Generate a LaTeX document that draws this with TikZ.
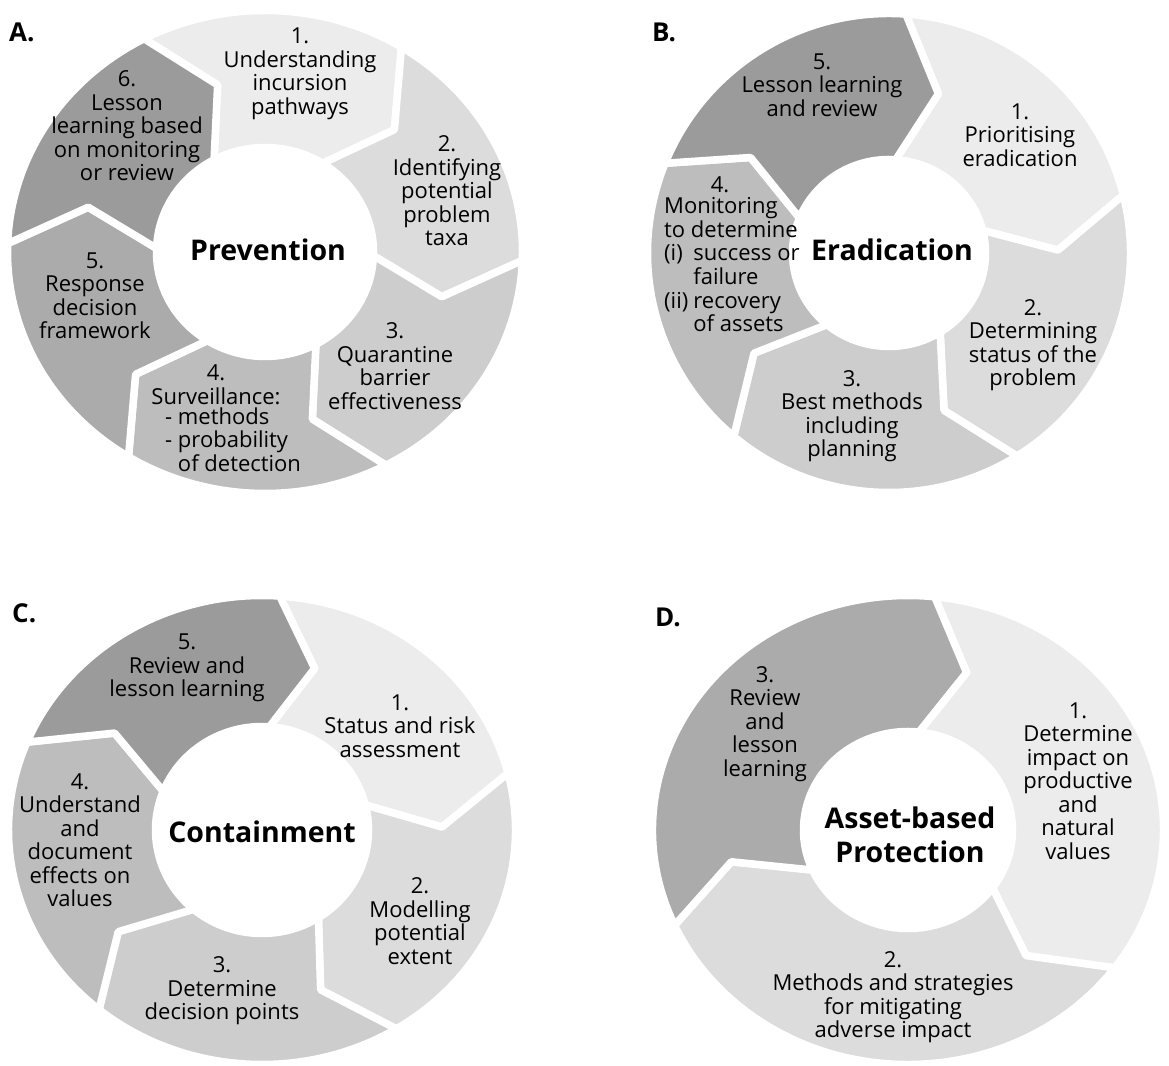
\documentclass[tikz,border=0pt]{standalone}
\usepackage{fontspec}
\setmainfont{Open Sans}
\definecolor{gris1}{HTML}{ECECEC}
\definecolor{gris2}{HTML}{DCDCDC}
\definecolor{gris3}{HTML}{CDCDCD}
\definecolor{gris4}{HTML}{BDBDBD}
\definecolor{gris5}{HTML}{ABABAB}
\definecolor{gris6}{HTML}{9B9B9B}
\newcommand{\fleche}[3]{%
  \filldraw[segment, fill=#3]
    (#1:{\rxo} and {\ryo}) arc[start angle=#1, end angle=#2, x radius=\rxo, y radius=\ryo]
    -- ({#2-13}:{\rxm} and {\rym}) -- (#2:{\rxi} and {\ryi})
    arc[start angle=#2, end angle=#1, x radius=\rxi, y radius=\ryi]
    -- ({#1-13}:{\rxm} and {\rym}) -- cycle;}

\begin{document}
\begin{tikzpicture}[x=1pt,y=1pt]
\tikzset{segment/.style={draw=white, line width=7.5pt, line join=round},
  etiq/.style={align=center, inner sep=0pt, font=\fontsize{22}{23.5}\selectfont},
  liste/.style={anchor=west, inner sep=0pt, font=\fontsize{22}{23.5}\selectfont},
  titre/.style={align=center, inner sep=0pt, font=\fontsize{28.5}{34}\selectfont\bfseries},
  lettre/.style={anchor=west, inner sep=0pt, font=\fontsize{26}{30}\selectfont\bfseries}}
\useasboundingbox (0,0) rectangle (1169,1065);

\begin{scope}[shift={(265,813)}]
\def\rxo{257.5pt}\def\ryo{241.5pt}\def\rxm{183pt}\def\rym{173pt}\def\rxi{108.5pt}\def\ryi{104.5pt}
\fleche{118}{58}{gris1}
\fleche{58}{-2}{gris2}
\fleche{-2}{-62}{gris3}
\fleche{-62}{-122}{gris4}
\fleche{-122}{-182}{gris5}
\fleche{-182}{-242}{gris6}
\end{scope}

\begin{scope}[shift={(889,812)}]
\def\rxo{241.5pt}\def\ryo{239.5pt}\def\rxm{169pt}\def\rym{166.5pt}\def\rxi{96.5pt}\def\ryi{93.5pt}
\fleche{86}{14}{gris1}
\fleche{14}{-58}{gris2}
\fleche{-58}{-130}{gris3}
\fleche{-130}{-202}{gris4}
\fleche{-202}{-274}{gris6}
\end{scope}

\begin{scope}[shift={(262,235)}]
\def\rxo{253.5pt}\def\ryo{234.5pt}\def\rxm{180pt}\def\rym{169pt}\def\rxi{106.5pt}\def\ryi{103.5pt}
\fleche{86}{14}{gris1}
\fleche{14}{-58}{gris2}
\fleche{-58}{-130}{gris3}
\fleche{-130}{-202}{gris4}
\fleche{-202}{-274}{gris6}
\end{scope}

\begin{scope}[shift={(908,235)}]
\def\rxo{255.5pt}\def\ryo{234.5pt}\def\rxm{180pt}\def\rym{166.5pt}\def\rxi{104.5pt}\def\ryi{98.5pt}
\fleche{84}{-36}{gris1}
\fleche{-36}{-156}{gris2}
\fleche{-156}{-276}{gris5}
\end{scope}

\node[lettre] (lA) at (9,1033) {A.};
\node[titre] (tA) at (268,815) {Prevention};
\node[etiq] (A1) at (300,991) {1.\\Understanding\\incursion\\pathways};
\node[etiq] (A2) at (447,874) {2.\\Identifying\\potential\\problem\\taxa};
\node[etiq] (A3) at (395,699) {3.\\Quarantine\\barrier\\effectiveness};
\node[etiq] (A4) at (216,680) {4.\\Surveillance:};
\node[liste] (A4l) at (165,622) {\renewcommand\arraystretch{0.94}\begin{tabular}{@{}l@{\ }l@{}}-&methods\\-&probability\\&of detection\end{tabular}};
\node[etiq] (A5) at (95,769) {5.\\Response\\decision\\framework};
\node[etiq] (A6) at (127,939) {6.\\Lesson\\learning based\\on monitoring\\or review};

\node[lettre] (lB) at (652,1033) {B.};
\node[titre] (tB) at (892,815) {Eradication};
\node[etiq] (B1) at (1020,930) {1.\\Prioritising\\eradication};
\node[etiq] (B2) at (1033,720) {2.\\Determining\\status of the\\problem};
\node[etiq] (B3) at (852,649) {3.\\Best methods\\including\\planning};
\node[etiq] (B4) at (720,880) {4.};
\node[liste] (B4l) at (664,797) {\begin{tabular}{@{}l@{\hspace{5pt}}l@{}}\multicolumn{2}{@{}l@{}}{Monitoring}\\\multicolumn{2}{@{}l@{}}{to determine}\\(i)&success or\\&failure\\(ii)&recovery\\&of assets\end{tabular}};
\node[etiq] (B5) at (822,980) {5.\\Lesson learning\\and review};

\node[lettre] (lC) at (12,452) {C.};
\node[titre] (tC) at (262,233) {Containment};
\node[etiq] (C1) at (400,339) {1.\\Status and risk\\assessment};
\node[etiq] (C2) at (420,144) {2.\\Modelling\\potential\\extent};
\node[etiq] (C3) at (222,74) {3.\\Determine\\decision points};
\node[etiq] (C4) at (80,225) {4.\\Understand\\and\\document\\effects on\\values};
\node[etiq] (C5) at (187,397) {5.\\Review and\\lesson learning};

\node[lettre] (lD) at (655,448) {D.};
\node[titre] (tD) at (910,230) {Asset-based\\Protection};
\node[etiq] (D1) at (1078,284) {1.\\Determine\\impact on\\productive\\and\\natural\\values};
\node[etiq] (D2) at (893,68) {2.\\Methods and strategies\\for mitigating\\adverse impact};
\node[etiq] (D3) at (765,341) {3.\\Review\\and\\lesson\\learning};
\end{tikzpicture}
\end{document}
